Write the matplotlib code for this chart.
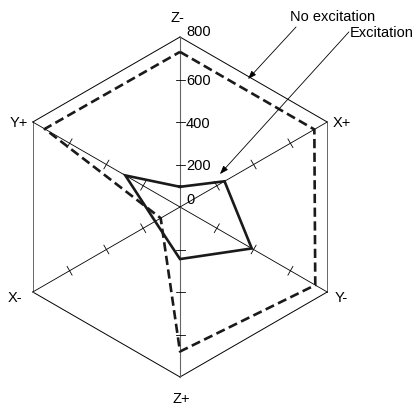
import numpy as np
import matplotlib
matplotlib.use('Agg')
import matplotlib.pyplot as plt

plt.rcParams['font.family'] = ['Liberation Sans', 'DejaVu Sans']

# Axis names, clockwise from the top
axis_labels = ['Z-', 'X+', 'Y-', 'Z+', 'X-', 'Y+']
axis_angles = [90, 30, -30, -90, 210, 150]  # degrees

# Values
no_excitation = [730, 730, 735, 680, 105, 735]
excitation = [95, 242, 390, 245, 135, 297]

tick_values = [0, 200, 400, 600, 800]
r_max = 800

ang = np.deg2rad(axis_angles)
ux, uy = np.cos(ang), np.sin(ang)

# 800 units ~ 170 px
px = r_max / 170.0
fs = 10.5

fig = plt.figure(figsize=(4.15, 4.10), dpi=100)
ax = fig.add_axes([0, 0, 1, 1])
ax.set_xlim(-180 * px, 235 * px)
ax.set_ylim(-202 * px, 208 * px)
ax.set_aspect('equal')
ax.axis('off')

# Hexagon frame
hx = np.append(ux, ux[0]) * r_max
hy = np.append(uy, uy[0]) * r_max
for i in range(6):
    vertical = abs(hx[i] - hx[i + 1]) < 1e-6
    ax.plot(hx[i:i + 2], hy[i:i + 2], color='#666666' if vertical else 'black', lw=0.7)

# Spokes
for i in range(6):
    vertical = axis_angles[i] in (90, -90)
    ax.plot([0, ux[i] * r_max], [0, uy[i] * r_max],
            color='#666666' if vertical else 'black', lw=0.8 if vertical else 0.6)

# Tick marks on every spoke
for i in range(6):
    nx, ny = -uy[i], ux[i]
    half = (4.5 if axis_angles[i] in (90, -90) else 5) * px
    for t in tick_values[1:-1]:
        cx, cy = ux[i] * t, uy[i] * t
        ax.plot([cx - nx * half, cx + nx * half], [cy - ny * half, cy + ny * half],
                color='black', lw=0.6)

# Tick labels on the Z- axis
for t in tick_values:
    if t == 0:
        ax.text(6 * px, 8 * px, '0', fontsize=fs, ha='left', va='center')
    elif t == r_max:
        ax.text(6 * px, t + 6 * px, str(t), fontsize=fs, ha='left', va='center')
    else:
        ax.text(6 * px, t - 1 * px, str(t), fontsize=fs, ha='left', va='center')

# Axis names
ax.text(-3 * px, r_max + 20 * px, 'Z-', fontsize=fs, ha='center', va='center')
ax.text(1 * px, -r_max - 21 * px, 'Z+', fontsize=fs, ha='center', va='center')
ax.text(ux[1] * r_max + 5 * px, uy[1] * r_max, 'X+', fontsize=fs, ha='left', va='center')
ax.text(ux[2] * r_max + 7 * px, uy[2] * r_max - 5 * px, 'Y-', fontsize=fs, ha='left', va='center')
ax.text(ux[4] * r_max - 10 * px, uy[4] * r_max - 5 * px, 'X-', fontsize=fs, ha='right', va='center')
ax.text(ux[5] * r_max - 5 * px, uy[5] * r_max, 'Y+', fontsize=fs, ha='right', va='center')

# Data polygons
for vals, ls in [(no_excitation, (0, (3.5, 1.7))), (excitation, '-')]:
    v = np.array(vals + vals[:1], dtype=float)
    xs = np.append(ux, ux[0]) * v
    ys = np.append(uy, uy[0]) * v
    ax.plot(xs, ys, color='#1a1a1a', lw=1.9, linestyle=ls, solid_joinstyle='miter')

# Callouts
arrow = dict(arrowstyle='-|>,head_length=0.5,head_width=0.18', color='black', lw=0.6,
             shrinkA=0, shrinkB=0)
ax.annotate('', xy=(320, 602), xytext=(546, 847), arrowprops=arrow)
ax.annotate('', xy=(188, 155), xytext=(795, 824), arrowprops=arrow)
ax.text(720, 899, 'No excitation', fontsize=fs, ha='center', va='center')
ax.text(1101, 824, 'Excitation', fontsize=fs, ha='right', va='center')

plt.savefig('out.png', dpi=100)
